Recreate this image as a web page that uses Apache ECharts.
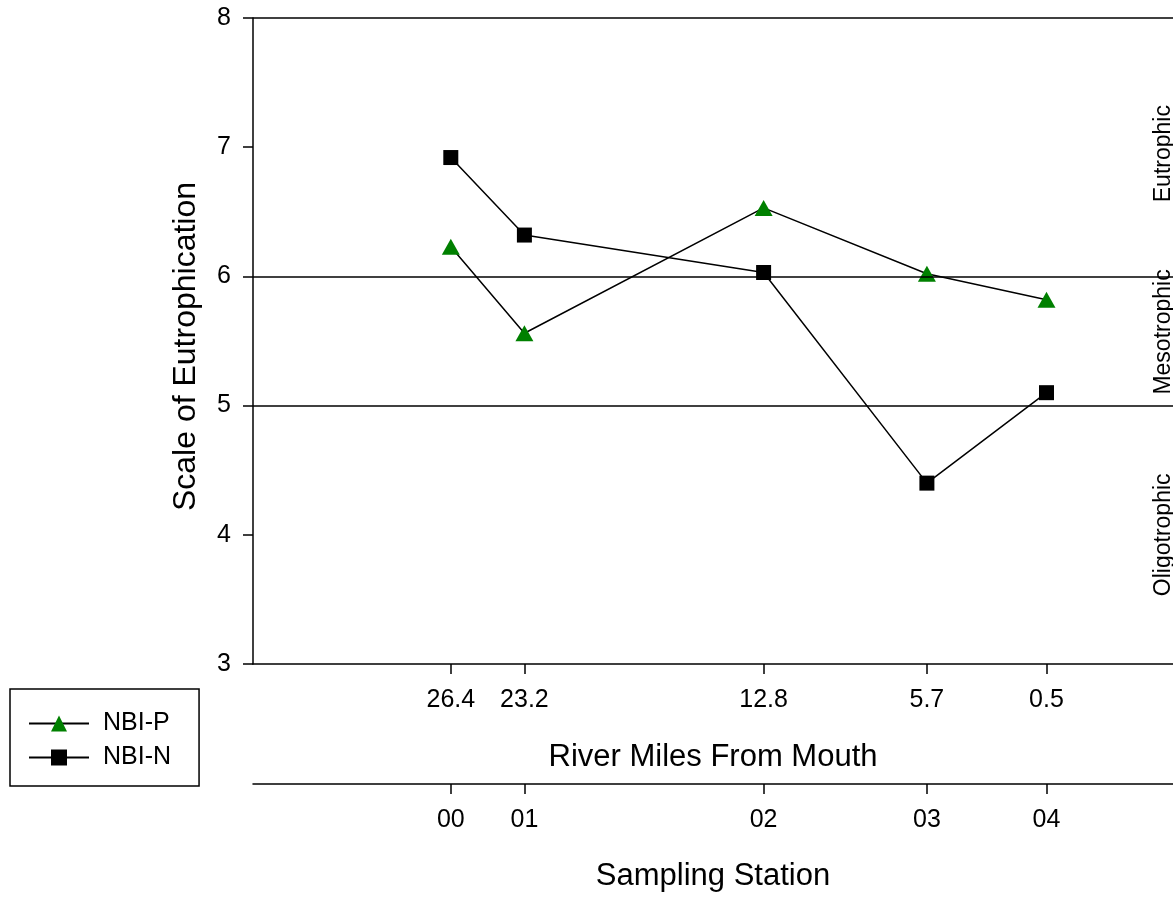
<!DOCTYPE html>
<html>
<head>
<meta charset="utf-8">
<script src="https://cdn.jsdelivr.net/npm/echarts@6/dist/echarts.min.js"></script>
<style>
html,body{margin:0;padding:0;background:#fff;}
#chart{width:1173px;height:897px;}
</style>
</head>
<body>
<div id="chart"></div>
<script>
// ---- data ----
const riverMiles = [26.4, 23.2, 12.8, 5.7, 0.5];
const stations = ['00', '01', '02', '03', '04'];
const nbiP = [6.23, 5.56, 6.53, 6.02, 5.82];
const nbiN = [6.92, 6.32, 6.03, 4.40, 5.10];
const thresholds = [5, 6, 8];
const zoneNames = ['Eutrophic', 'Mesotrophic', 'Oligotrophic'];
const zoneY = [6.95, 5.57, 4.0];

const FONT = '"Liberation Sans", Arial, sans-serif';
const zoneLabelX = -4.6;

const chart = echarts.init(document.getElementById('chart'), null, {renderer: 'canvas'});

const baseX = {
  type: 'value',
  inverse: true,
  min: -5,
  max: 35,
  position: 'bottom',
  nameLocation: 'middle',
  nameTextStyle: {fontFamily: FONT, fontSize: 31, color: '#000'},
  axisLine: {show: true, onZero: false, lineStyle: {color: '#000', width: 1.5}},
  axisTick: {show: true, length: 10, inside: false, customValues: riverMiles, lineStyle: {color: '#000', width: 1.5}},
  splitLine: {show: false}
};

const option = {
  animation: false,
  backgroundColor: '#fff',
  grid: {left: 253, right: -8, top: 18, bottom: 231, containLabel: false},
  legend: {
    data: ['NBI-P', 'NBI-N'],
    orient: 'vertical',
    left: 10,
    top: 689,
    itemWidth: 60,
    itemHeight: 20,
    itemGap: 9,
    padding: [22, 28, 16, 18],
    borderColor: '#000',
    borderWidth: 1.5,
    borderRadius: 0,
    textStyle: {fontFamily: FONT, fontSize: 25, color: '#000', padding: [0, 0, 0, 9]}
  },
  xAxis: [
    Object.assign({}, baseX, {
      name: 'River Miles From Mouth',
      nameGap: 78,
      axisLabel: {
        show: true, customValues: riverMiles, margin: 24,
        fontFamily: FONT, fontSize: 25, color: '#000',
        formatter: v => String(v)
      }
    }),
    Object.assign({}, baseX, {
      name: 'Sampling Station',
      nameGap: 77,
      offset: 120,
      axisLabel: {
        show: true, customValues: riverMiles, margin: 24,
        fontFamily: FONT, fontSize: 25, color: '#000',
        formatter: v => {
          const i = riverMiles.findIndex(m => Math.abs(m - v) < 1e-6);
          return i >= 0 ? stations[i] : '';
        }
      }
    })
  ],
  yAxis: {
    type: 'value',
    min: 3,
    max: 8,
    interval: 1,
    name: 'Scale of Eutrophication',
    nameLocation: 'middle',
    nameGap: 51,
    nameTextStyle: {fontFamily: FONT, fontSize: 32, color: '#000', padding: [0, 11, 0, 0]},
    axisLine: {show: true, onZero: false, lineStyle: {color: '#000', width: 1.5}},
    axisTick: {show: true, length: 10, inside: false, lineStyle: {color: '#000', width: 1.5}},
    axisLabel: {margin: 22, fontFamily: FONT, fontSize: 25, color: '#000'},
    splitLine: {show: false}
  },
  series: [
    {
      name: 'NBI-P',
      type: 'line',
      xAxisIndex: 0,
      data: riverMiles.map((m, i) => [m, nbiP[i]]),
      symbol: 'triangle',
      symbolSize: [18, 16],
      itemStyle: {color: '#008000'},
      lineStyle: {color: '#000', width: 1.5},
      z: 3,
      markLine: {
        silent: true,
        symbol: 'none',
        label: {show: false},
        lineStyle: {color: '#000', width: 1.5, type: 'solid'},
        data: thresholds.map(v => ({yAxis: v}))
      }
    },
    {
      name: 'NBI-N',
      type: 'line',
      xAxisIndex: 0,
      data: riverMiles.map((m, i) => [m, nbiN[i]]),
      symbol: 'rect',
      symbolSize: 15,
      itemStyle: {color: '#000'},
      lineStyle: {color: '#000', width: 1.5},
      z: 3
    },
    {
      name: 'zones',
      type: 'scatter',
      xAxisIndex: 0,
      silent: true,
      symbolSize: 1,
      itemStyle: {color: 'rgba(0,0,0,0)', opacity: 1},
      data: zoneNames.map((n, i) => ({name: n, value: [zoneLabelX, zoneY[i]]})),
      label: {
        show: true,
        position: 'inside',
        formatter: '{b}',
        rotate: 90,
        fontFamily: FONT,
        fontSize: 23,
        color: '#000',
        opacity: 1,
        textBorderWidth: 0
      }
    }
  ]
};

chart.setOption(option);
</script>
</body>
</html>
